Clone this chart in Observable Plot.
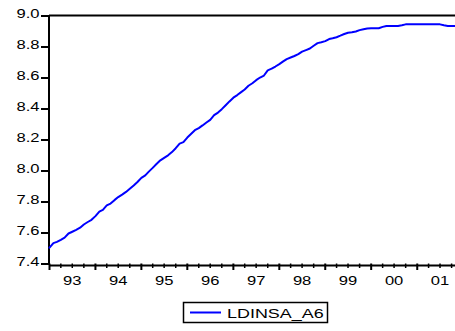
<!DOCTYPE html>
<html>
<head>
<meta charset="utf-8">
<script src="https://cdn.jsdelivr.net/npm/d3@7"></script>
<script src="https://cdn.jsdelivr.net/npm/@observablehq/plot@0.6"></script>
<style>
  html, body { margin: 0; padding: 0; background: #fff; }
  #chart { width: 455px; height: 331px; overflow: hidden; background: #fff; }
  #chart svg { display: block; }
</style>
</head>
<body>
<div id="chart"></div>
<script>
// Monthly series LDINSA_A6, 1993M01 .. 2001M11
const seriesName = "LDINSA_A6";
const firstYear = 1993;
const ldinsa = [
  7.505, 7.535, 7.543, 7.556, 7.570, 7.597, 7.608, 7.620, 7.634, 7.655, 7.671, 7.685, // 1993
  7.709, 7.738, 7.749, 7.778, 7.790, 7.812, 7.832, 7.848, 7.865, 7.885, 7.906, 7.929, // 1994
  7.956, 7.972, 7.996, 8.020, 8.045, 8.069, 8.085, 8.101, 8.122, 8.147, 8.177, 8.186, // 1995
  8.216, 8.240, 8.263, 8.277, 8.294, 8.313, 8.330, 8.360, 8.377, 8.399, 8.424, 8.449, // 1996
  8.473, 8.490, 8.507, 8.526, 8.550, 8.566, 8.586, 8.603, 8.616, 8.649, 8.660, 8.674, // 1997
  8.690, 8.707, 8.722, 8.732, 8.742, 8.754, 8.770, 8.780, 8.790, 8.808, 8.825, 8.831, // 1998
  8.838, 8.851, 8.856, 8.863, 8.873, 8.884, 8.892, 8.895, 8.900, 8.909, 8.915, 8.920, // 1999
  8.921, 8.921, 8.921, 8.930, 8.936, 8.936, 8.936, 8.936, 8.940, 8.946, 8.946, 8.946, // 2000
  8.946, 8.946, 8.946, 8.946, 8.946, 8.946, 8.946, 8.940, 8.936, 8.936, 8.936         // 2001
];
const yTicks = [7.4, 7.6, 7.8, 8.0, 8.2, 8.4, 8.6, 8.8, 9.0];
const yearLabels = ["93", "94", "95", "96", "97", "98", "99", "00", "01"];

const start = new Date(Date.UTC(firstYear, 0, 1));
const series = ldinsa.map((v, i) => ({date: d3.utcMonth.offset(start, i), value: v}));
const end = series[series.length - 1].date;

const yearStarts = yearLabels.map((_, k) => new Date(Date.UTC(firstYear + k, 0, 1)));
const quarterTicks = d3.utcMonth.every(3).range(start, d3.utcDay.offset(end, 1))
  .filter(d => d.getUTCMonth() !== 0);
const midYears = yearLabels.map((_, k) => new Date(Date.UTC(firstYear + k, 6, 1)));

const font = "Arial, 'Liberation Sans', sans-serif";
const stretch = 1.38; // wide glyph style of the labels

const chart = Plot.plot({
  width: 455,
  height: 290,
  marginTop: 15.5,
  marginBottom: 26.5,
  marginLeft: 49,
  marginRight: 0,
  style: {fontFamily: font, fontSize: "12px", color: "#000", background: "#fff", overflow: "visible"},
  x: {type: "utc", domain: [start, end]},
  y: {domain: [7.4, 9.0]},
  marks: [
    // y-axis: ticks and labels
    Plot.axisY(yTicks, {tickSize: 8, tickFormat: () => "", strokeWidth: 2, label: null}),
    Plot.axisY(yTicks, {tickSize: 0, tickPadding: 10, dy: -1.5, tickFormat: d => d.toFixed(1), label: null}),
    // x-axis: year ticks, quarter ticks, year labels
    Plot.axisX(yearStarts, {tickSize: 6.5, tickFormat: () => "", strokeWidth: 2, label: null}),
    Plot.axisX(quarterTicks, {tickSize: 4.5, tickFormat: () => "", strokeWidth: 1.5, label: null}),
    Plot.axisX(midYears, {tickSize: 0, tickPadding: 12, tickFormat: d => yearLabels[d.getUTCFullYear() - firstYear], label: null}),
    // frame lines
    Plot.ruleY([9.0], {stroke: "#000", strokeWidth: 2, dy: -0.5}),
    Plot.ruleY([7.4], {stroke: "#000", strokeWidth: 2, dy: 1.5}),
    Plot.ruleX([start], {stroke: "#000", strokeWidth: 2, dx: -0.5, y1: 9.0, y2: 7.4, dy: 0.5}),
    // series
    Plot.lineY(series, {x: "date", y: "value", stroke: "#0000ff", strokeWidth: 2})
  ]
});

// widen label glyphs horizontally around their anchors
function stretchText(root) {
  root.querySelectorAll("text").forEach(t => {
    const tr = t.getAttribute("transform");
    if (tr) {
      t.setAttribute("transform", tr + ` scale(${stretch},1)`);
    } else {
      const x = +t.getAttribute("x") || 0, y = +t.getAttribute("y") || 0;
      t.removeAttribute("x");
      t.removeAttribute("y");
      t.setAttribute("transform", `translate(${x},${y}) scale(${stretch},1)`);
    }
  });
}
stretchText(chart);

const container = document.getElementById("chart");
container.appendChild(chart);

// legend below the plot
const legend = d3.create("svg")
  .attr("width", 455)
  .attr("height", 41)
  .style("display", "block")
  .style("font-family", font);
legend.append("rect")
  .attr("x", 183.5).attr("y", 12.5)
  .attr("width", 144).attr("height", 20)
  .attr("fill", "#fff").attr("stroke", "#000").attr("stroke-width", 1.5);
legend.append("line")
  .attr("x1", 190).attr("x2", 221).attr("y1", 22.5).attr("y2", 22.5)
  .attr("stroke", "#0000ff").attr("stroke-width", 2);
legend.append("text")
  .attr("transform", `translate(227,28.2) scale(${stretch},1)`)
  .attr("font-size", 13)
  .attr("fill", "#000")
  .text(seriesName);
container.appendChild(legend.node());
</script>
</body>
</html>
